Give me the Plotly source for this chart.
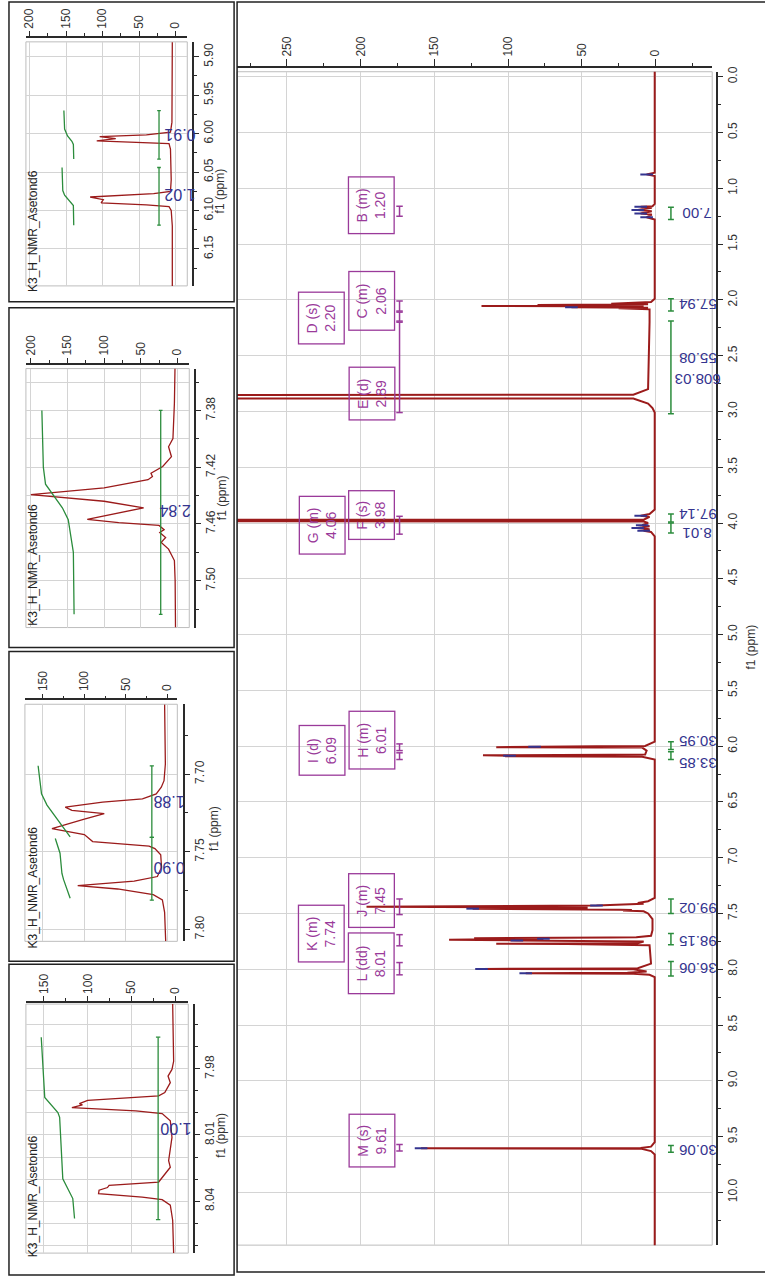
import plotly.graph_objects as go

W, H = 765, 1281
FONT = "Liberation Sans"
RED = "#9b1b1b"
NAVY = "#34348f"
GREEN = "#2b8c3c"
PURPLE = "#9a3a9a"
GRID = "#d4d4d4"
FRAME = "#bdbdbd"
AXIS = "#2a2a2a"

# ---------------- main 1H spectrum (ppm, intensity) ----------------
main_ppm = [-0.09, 0.86, 0.875, 0.89, 1.14, 1.16, 1.165, 1.175, 1.195, 1.205, 1.225, 1.235,
            1.26, 1.28, 1.99, 2.02, 2.035, 2.040, 2.045, 2.050, 2.055, 2.060, 2.065, 2.070,
            2.075, 2.085, 2.20, 2.80, 2.85, 2.862, 2.868, 2.874, 2.885, 2.93, 2.97, 3.01,
            3.88, 3.92, 3.935, 3.945, 3.970, 3.978, 3.986, 4.00, 4.02, 4.03, 4.045, 4.055,
            4.07, 4.08, 4.12, 5.96, 5.99, 5.998, 6.0015, 6.0039, 6.0064, 6.0094, 6.0115,
            6.013, 6.04, 6.075, 6.078, 6.0824, 6.0858, 6.090, 6.0925, 6.095, 6.12, 7.36,
            7.39, 7.4056, 7.4126, 7.4195, 7.4242, 7.4288, 7.4393, 7.4486, 7.4568, 7.461,
            7.466, 7.4695, 7.473, 7.48, 7.50, 7.55, 7.65, 7.70, 7.7128, 7.716, 7.7213,
            7.7255, 7.7351, 7.7415, 7.7464, 7.752, 7.766, 7.769, 7.7719, 7.774, 7.7777,
            7.785, 7.95, 7.9908, 7.9923, 7.9976, 8.0003, 8.02, 8.0313, 8.0366, 8.0393,
            8.05, 8.07, 9.55, 9.59, 9.602, 9.605, 9.608, 9.63, 9.66, 10.5]
main_int = [0.5, 0.5, 6, 0.5, 0.5, 2, 10, 2.5, 12, 2.5, 10, 2.5,
            6, 0.5, 0.5, 3, 30, 5, 80, 8, 118, 8, 57, 5,
            25, 4, 4, 5, 15, 3000, 3000, 3000, 15, 5, 2, 0.5,
            0.5, 4, 10, 4, 8, 3000, 8, 5, 9, 4, 12, 4,
            8, 3, 0.5, 0.5, 5, 7, 40, 104, 82, 108, 40,
            9, 6, 7, 30, 117, 99, 102, 40, 9, 0.5, 0.5,
            5, 12, 8, 20, 36, 40, 196, 46, 124, 25,
            24, 16, 22, 8, 5, 2, 2, 3, 13, 30, 123,
            76, 140, 94, 22, 8, 12, 40, 108, 60, 17,
            4, 3, 12, 19, 118, 15, 6, 19, 88, 15,
            4, 0.5, 0.5, 3, 10, 159, 10, 3, 0.5, 0.5]

# peak-pick tips drawn in blue over the main trace
tip_ppm = [0.875, 1.165, 1.195, 1.225, 1.26, 2.065, 3.935, 4.02, 4.045, 4.07,
           6.0064, 6.0858, 7.4288, 7.4568, 7.7255, 7.7415, 7.9976, 8.0366, 9.605]
tip_int = [6, 10, 12, 10, 6, 57, 10, 9, 12, 8,
           82, 99, 40, 124, 76, 94, 118, 88, 159]

# multiplet analysis boxes: label, shift, box centre (intensity, ppm), box length
mult_names = ["B (m)", "C (m)", "D (s)", "E (d)", "F (s)", "G (m)",
              "H (m)", "I (d)", "J (m)", "K (m)", "L (dd)", "M (s)"]
mult_shift = ["1.20", "2.06", "2.20", "2.89", "3.98", "4.06",
              "6.01", "6.09", "7.45", "7.74", "8.01", "9.61"]
mult_box_int = [192.6, 192.6, 226.4, 192.6, 192.6, 226.4,
                192.6, 226.4, 192.6, 226.4, 192.6, 192.6]
mult_box_ppm = [1.156, 2.013, 2.161, 2.844, 3.933, 4.018,
                5.946, 6.036, 7.384, 7.683, 7.951, 9.540]
mult_box_len = [51, 53, 46, 47, 43, 52, 52, 44, 48, 51, 55, 47]
mult_ranges = [(1.16, 1.25), (2.01, 2.10), (2.11, 2.19), (2.20, 3.01), (3.94, 4.10),
               (5.98, 6.04), (6.06, 6.12), (7.37, 7.51), (7.69, 7.79), (7.94, 8.05),
               (9.57, 9.63)]

# integrals of the main spectrum
integ_ranges = [(1.17, 1.28), (1.99, 2.10), (2.19, 3.02), (3.92, 3.99), (4.00, 4.09),
                (5.96, 6.03), (6.05, 6.12), (7.37, 7.50), (7.68, 7.78), (7.93, 8.06),
                (9.58, 9.64)]
integ_labels = ["7.00", "57.94", "55.08", "608.03", "97.14", "8.01",
                "30.95", "33.85", "99.02", "98.15", "36.06", "30.06"]
integ_label_ppm = [1.22, 2.04, 2.52, 2.72, 3.93, 4.10,
                   5.96, 6.15, 7.46, 7.75, 8.00, 9.62]

# ---------------- expansions ----------------
ins1_ppm = [5.881, 5.95, 5.985, 5.998, 6.0015, 6.0039, 6.0064, 6.0094, 6.0115, 6.013,
            6.02, 6.04, 6.06, 6.075, 6.078, 6.0824, 6.0858, 6.090, 6.0925, 6.095,
            6.10, 6.12, 6.198]
ins1_int = [4.5, 4.5, 5, 7, 40, 104, 82, 108, 40, 9,
            7, 6, 6, 7, 30, 117, 99, 102, 40, 9,
            6, 4.5, 4.5]
ins1_int_ppm = [[5.970, 5.994, 6.003, 6.010, 6.014, 6.033],
                [6.044, 6.074, 6.080, 6.088, 6.0935, 6.119]]
ins1_int_val = [[153, 152, 148, 142, 140, 139.5],
                [155.5, 154.5, 152, 145, 140, 139.5]]
ins1_brackets = [(5.970, 6.033), (6.044, 6.119)]
ins1_labels = ["0.91", "1.02"]
ins1_label_ppm = [6.001, 6.080]

ins2_ppm = [7.3505, 7.375, 7.3998, 7.4056, 7.4126, 7.416, 7.4195, 7.4242, 7.4265, 7.4288,
            7.4345, 7.4393, 7.444, 7.4486, 7.453, 7.4568, 7.459, 7.461, 7.464, 7.466,
            7.4695, 7.473, 7.4777, 7.4823, 7.4858, 7.50, 7.533]
ins2_int = [3.2, 4, 6, 12, 8, 14, 20, 36, 34, 40,
            100, 200, 100, 46, 90, 123, 80, 25, 18, 24,
            16, 22, 12, 8, 4, 3, 2.5]
ins2_int_ppm = [[7.380, 7.420, 7.432, 7.4393, 7.4486, 7.457, 7.470, 7.480, 7.5237]]
ins2_int_val = [[185, 183, 180, 170, 157, 149, 145, 142, 141]]
ins2_brackets = [(7.380, 7.5237)]
ins2_labels = ["2.84"]
ins2_label_ppm = [7.451]

ins3_ppm = [7.6553, 7.6936, 7.7043, 7.7085, 7.7128, 7.716, 7.7181, 7.7213, 7.7234, 7.7255,
            7.729, 7.7351, 7.739, 7.7415, 7.7435, 7.7464, 7.748, 7.752, 7.760, 7.766,
            7.769, 7.7719, 7.774, 7.7777, 7.781, 7.789, 7.8077]
ins3_int = [3.3, 2.4, 4, 7.3, 13.4, 30, 78, 123, 115, 76,
            100, 139, 100, 95, 90, 22, 15, 8, 7, 12,
            40, 108, 60, 17, 6, 3.3, 2]
ins3_int_ppm = [[7.6947, 7.7128, 7.720, 7.730, 7.7404],
                [7.7415, 7.751, 7.764, 7.768, 7.780]]
ins3_int_val = [[155.7, 151.6, 145, 131, 117.1],
                [135, 129.3, 127, 125, 117.1]]
ins3_brackets = [(7.6947, 7.7408), (7.7408, 7.7812)]
ins3_labels = ["1.88", "0.90"]
ins3_label_ppm = [7.7181, 7.7606]

ins4_ppm = [7.9507, 7.9766, 7.9803, 7.9833, 7.9863, 7.9908, 7.9923, 7.9943, 7.9958, 7.9963,
            7.9976, 7.9991, 8.0003, 8.0036, 8.0111, 8.0178, 8.0216, 8.0246, 8.0276, 8.0313,
            8.0328, 8.0338, 8.035, 8.0366, 8.0381, 8.0393, 8.0418, 8.0486, 8.0635]
ins4_int = [3, 1.9, 3.8, 8.3, 5.7, 12, 19, 100, 109.5, 106,
            118, 45, 15, 5.7, 3.8, 5.7, 7.6, 5.7, 11.3, 19,
            75.6, 77.4, 87, 87.6, 37.8, 15, 5.7, 3, 1.9]
ins4_int_ppm = [[7.9657, 7.9930, 7.9998, 8.002, 8.0298, 8.0388, 8.0478]]
ins4_int_val = [[153, 149, 134, 132, 128.4, 117, 115]]
ins4_brackets = [(7.9657, 8.0483)]
ins4_labels = ["1.00"]
ins4_label_ppm = [8.0073]

DATASET = "K3_H_NMR_Asetond6"


def fx(p):
    return p / W


def fy(p):
    return 1 - p / H


def inten_axis(x0, x1, left_val, right_val, line_y, ticklen=5):
    return dict(domain=[fx(x0), fx(x1)], range=[left_val, right_val], anchor="free",
                position=fy(line_y), side="top", showline=True, linecolor=AXIS, linewidth=1.5,
                ticks="outside", ticklen=ticklen, tickwidth=1, tickcolor=AXIS, tickangle=-90,
                tick0=0, dtick=50, showgrid=True, gridcolor=GRID, gridwidth=1, zeroline=False,
                minor=dict(tick0=0, dtick=25, ticks="outside", ticklen=3, tickcolor=AXIS,
                           showgrid=False),
                tickfont=dict(family=FONT, size=12, color="#333"), fixedrange=True)


def ppm_axis(y0, y1, bottom_val, top_val, line_x, tick0, dtick, mdtick, fmt, minor_grid=False):
    return dict(domain=[fy(y1), fy(y0)], range=[bottom_val, top_val], anchor="free",
                position=fx(line_x), side="right", showline=True, linecolor=AXIS, linewidth=1.5,
                ticks="outside", ticklen=5, tickwidth=1, tickcolor=AXIS, tickangle=-90,
                tick0=tick0, dtick=dtick, tickformat=fmt, showgrid=True, gridcolor=GRID,
                gridwidth=1, zeroline=False,
                minor=dict(tick0=tick0, dtick=mdtick, ticks="outside", ticklen=3,
                           tickcolor=AXIS, showgrid=minor_grid, gridcolor=GRID, gridwidth=1),
                tickfont=dict(family=FONT, size=12, color="#333"), fixedrange=True)


def bracket_xy(ranges, at, cap):
    xs, ys = [], []
    for a, b in ranges:
        xs += [at, at, None, at - cap, at + cap, None, at - cap, at + cap, None]
        ys += [a, b, None, a, a, None, b, b, None]
    return xs, ys


fig = go.Figure()

# main spectrum
fig.add_trace(go.Scatter(x=main_int, y=main_ppm, mode="lines",
                         line=dict(color=RED, width=2), xaxis="x", yaxis="y",
                         hoverinfo="skip", showlegend=False))
fig.add_trace(go.Scatter(x=tip_int, y=tip_ppm, mode="markers", xaxis="x", yaxis="y",
                         marker=dict(symbol="line-ew", size=9,
                                     line=dict(color=NAVY, width=2)),
                         hoverinfo="skip", showlegend=False))
bx, by = bracket_xy(mult_ranges, 173.6, 2.2)
fig.add_trace(go.Scatter(x=bx, y=by, mode="lines", line=dict(color=PURPLE, width=1.5),
                         xaxis="x", yaxis="y", hoverinfo="skip", showlegend=False))
gx, gy = bracket_xy(integ_ranges, -10.5, 2.0)
fig.add_trace(go.Scatter(x=gx, y=gy, mode="lines", line=dict(color=GREEN, width=1.5),
                         xaxis="x", yaxis="y", hoverinfo="skip", showlegend=False))

insets = [
    (ins1_ppm, ins1_int, ins1_int_ppm, ins1_int_val, ins1_brackets, 22.7, ins1_labels,
     ins1_label_ppm, -6.4),
    (ins2_ppm, ins2_int, ins2_int_ppm, ins2_int_val, ins2_brackets, 22.7, ins2_labels,
     ins2_label_ppm, 2.7),
    (ins3_ppm, ins3_int, ins3_int_ppm, ins3_int_val, ins3_brackets, 18.7, ins3_labels,
     ins3_label_ppm, -2.4),
    (ins4_ppm, ins4_int, ins4_int_ppm, ins4_int_val, ins4_brackets, 19.6, ins4_labels,
     ins4_label_ppm, -1.1),
]

annotations = []
for k, (pp, ii, ipp, ival, brk, bat, labs, lab_ppm, lab_x) in enumerate(insets):
    xa, ya = "x%d" % (k + 2), "y%d" % (k + 2)
    fig.add_trace(go.Scatter(x=ii, y=pp, mode="lines", line=dict(color=RED, width=1.3),
                             xaxis=xa, yaxis=ya, hoverinfo="skip", showlegend=False))
    for cp, cv in zip(ipp, ival):
        fig.add_trace(go.Scatter(x=cv, y=cp, mode="lines", line=dict(color=GREEN, width=1.3),
                                 xaxis=xa, yaxis=ya, hoverinfo="skip", showlegend=False))
    ix, iy = bracket_xy(brk, bat, 2.5)
    fig.add_trace(go.Scatter(x=ix, y=iy, mode="lines", line=dict(color=GREEN, width=1.3),
                             xaxis=xa, yaxis=ya, hoverinfo="skip", showlegend=False))
    for t, p in zip(labs, lab_ppm):
        annotations.append(dict(text=t, x=lab_x, y=p, xref=xa, yref=ya, showarrow=False,
                                xanchor="center", yanchor="middle",
                                textangle=180, font=dict(family=FONT, size=16, color=NAVY)))

# multiplet boxes
for name, shift, xi, yp, ln in zip(mult_names, mult_shift, mult_box_int, mult_box_ppm,
                                   mult_box_len):
    annotations.append(dict(text=name + "<br>" + shift, x=xi, y=yp, xref="x", yref="y",
                            showarrow=False, textangle=-90, align="center",
                            xanchor="center", yanchor="middle",
                            width=ln, height=40, borderpad=2, bordercolor=PURPLE,
                            borderwidth=1.3, bgcolor="rgba(255,255,255,0)",
                            font=dict(family=FONT, size=14, color=PURPLE)))

# integral values of the main spectrum
for t, p in zip(integ_labels, integ_label_ppm):
    annotations.append(dict(text=t, x=-28.4, y=p, xref="x", yref="y", showarrow=False,
                            xanchor="center", yanchor="middle",
                            textangle=180, font=dict(family=FONT, size=15, color=NAVY)))


def paper_text(text, x, y, size=12, color="#333"):
    annotations.append(dict(text=text, x=fx(x), y=fy(y), xref="paper", yref="paper",
                            showarrow=False, textangle=-90, xanchor="center",
                            yanchor="middle", font=dict(family=FONT, size=size, color=color)))


# axis titles and dataset names
paper_text("f1 (ppm)", 751, 645)
for tx, ty in [(218, 187), (220, 495), (212, 827), (218, 1135)]:
    paper_text("f1 (ppm)", tx, ty)
for ty in [227, 562, 886, 1196]:
    paper_text(DATASET, 30, ty, color="#222")

shapes = []


def rect(x0, y0, x1, y1, color, width, layer):
    shapes.append(dict(type="rect", xref="paper", yref="paper", x0=fx(x0), x1=fx(x1),
                       y0=fy(y1), y1=fy(y0), line=dict(color=color, width=width),
                       fillcolor="rgba(0,0,0,0)", layer=layer))


# plot-area frames
rect(235, 67, 712, 1245, FRAME, 1, "below")
rect(23, 37, 185, 282, FRAME, 1, "below")
rect(23, 365, 187, 625, FRAME, 1, "below")
rect(22, 702, 175, 940, FRAME, 1, "below")
rect(23, 1003, 186, 1253, FRAME, 1, "below")
# panel borders
rect(6, -3, 232, 298, "#222", 1.5, "above")
rect(6, 304, 232, 645, "#222", 1.5, "above")
rect(6, 649, 232, 960, "#222", 1.5, "above")
rect(6, 963, 232, 1275, "#222", 1.5, "above")
rect(235, -3, 768, 1272, "#222", 1.5, "above")

layout = dict(
    width=W, height=H, margin=dict(l=0, r=0, t=0, b=0),
    paper_bgcolor="white", plot_bgcolor="white", showlegend=False,
    xaxis=inten_axis(235, 712, 283.8, -38.5, 62, ticklen=7),
    yaxis=ppm_axis(67, 1245, 10.473, -0.045, 717, 0, 0.5, 0.25, ".1f"),
    xaxis2=inten_axis(23, 185, 205.0, -16.0, 32),
    yaxis2=ppm_axis(37, 282, 6.198, 5.8806, 191, 0, 0.05, 0.025, ".2f"),
    xaxis3=inten_axis(23, 187, 206.8, -16.3, 360),
    yaxis3=ppm_axis(365, 625, 7.533, 7.3505, 193, 7.38, 0.04, 0.02, ".2f", minor_grid=True),
    xaxis4=inten_axis(22, 175, 171.6, -12.0, 697),
    yaxis4=ppm_axis(702, 940, 7.8077, 7.6551, 182, 0, 0.05, 0.025, ".2f"),
    xaxis5=inten_axis(23, 186, 170.5, -14.8, 1001),
    yaxis5=ppm_axis(1003, 1253, 8.0635, 7.9507, 192, 7.98, 0.03, 0.01, ".2f", minor_grid=True),
    annotations=annotations, shapes=shapes,
)
fig.update_layout(**layout)

fig.write_html("out.html")
